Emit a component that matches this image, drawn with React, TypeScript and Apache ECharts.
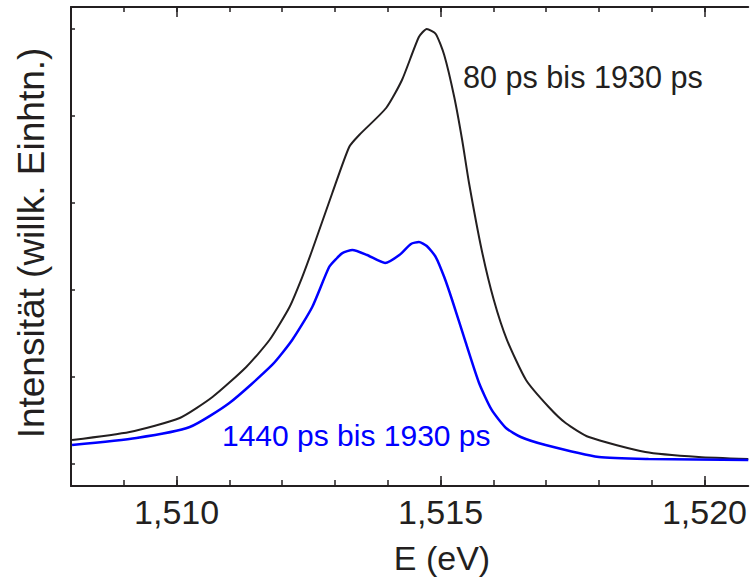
import React, { useEffect, useRef } from "react";
import * as echarts from "echarts";

const energyBlack = [1.50802, 1.50911, 1.51006, 1.51068, 1.51132, 1.51176, 1.51214, 1.51238, 1.51257, 1.51295, 1.51327, 1.51346, 1.51397, 1.51427, 1.51459, 1.51474, 1.51491, 1.51507, 1.51526, 1.51541, 1.51554, 1.51578, 1.51601, 1.51626, 1.51662, 1.51705, 1.51737, 1.51781, 1.51888, 1.51989, 1.52083];
const intensityBlack = [0.276, 0.368, 0.529, 0.77, 1.115, 1.425, 1.805, 2.149, 2.46, 3.115, 3.644, 3.782, 4.092, 4.414, 4.908, 5.0, 4.943, 4.701, 4.218, 3.724, 3.23, 2.46, 1.885, 1.425, 0.966, 0.655, 0.471, 0.31, 0.138, 0.08, 0.057];

const energyBlue = [1.50802, 1.50924, 1.51025, 1.511, 1.51181, 1.51219, 1.51257, 1.51289, 1.51304, 1.51314, 1.51333, 1.51361, 1.51395, 1.51422, 1.51444, 1.51459, 1.51474, 1.51491, 1.51507, 1.51522, 1.51548, 1.51573, 1.51597, 1.51624, 1.51652, 1.51699, 1.518, 1.51894, 1.52083];
const intensityBlue = [0.218, 0.299, 0.425, 0.701, 1.138, 1.425, 1.805, 2.264, 2.368, 2.425, 2.46, 2.402, 2.31, 2.402, 2.529, 2.552, 2.506, 2.379, 2.149, 1.885, 1.391, 0.931, 0.621, 0.414, 0.31, 0.218, 0.08, 0.057, 0.046];

const minorTicks = [1.508, 1.509, 1.51, 1.511, 1.512, 1.513, 1.514, 1.515, 1.516, 1.517, 1.518, 1.519, 1.52];
const majorTicks = [1.51, 1.515, 1.52];
const yTicks = [0, 1, 2, 3, 4, 5];

const labelBlack = "80 ps bis 1930 ps";
const labelBlue = "1440 ps bis 1930 ps";
const xTitle = "E (eV)";
const yTitle = "Intensität (willk. Einhtn.)";

const X_MIN = 1.508;
const X_MAX = 1.52083;
const Y_MIN = -0.253;
const Y_MAX = 5.253;

const INK = "#231f20";
const FONT = "'Liberation Sans', Arial, Helvetica, sans-serif";

export default function App() {
  const ref = useRef<HTMLDivElement>(null);
  useEffect(() => {
    document.body.style.margin = "0";
    if (!ref.current) return;
    const chart = echarts.init(ref.current, null, { renderer: "svg" });
    const baseX = (pos: string, ticks: number[], len: number, line: boolean, labels: boolean) => ({
      type: "value",
      position: pos,
      min: X_MIN,
      max: X_MAX,
      axisLine: { show: line, onZero: false, lineStyle: { color: INK, width: 2 } },
      axisTick: { show: true, inside: true, length: len, customValues: ticks, lineStyle: { color: INK, width: 1.5 } },
      axisLabel: labels
        ? {
            show: true,
            customValues: majorTicks,
            formatter: (v: number) => v.toFixed(3).replace(".", ","),
            fontSize: 34,
            fontFamily: FONT,
            color: INK,
            margin: 9,
          }
        : { show: false },
      splitLine: { show: false },
    });
    chart.setOption({
      animation: false,
      backgroundColor: "#ffffff",
      grid: { left: 71, top: 7, right: 0, bottom: 93, containLabel: false },
      xAxis: [
        baseX("bottom", minorTicks, 6, true, false),
        baseX("bottom", majorTicks, 10, false, true),
        baseX("top", minorTicks, 5, true, false),
        baseX("top", majorTicks, 10, false, false),
      ],
      yAxis: [
        {
          type: "value",
          position: "left",
          min: Y_MIN,
          max: Y_MAX,
          axisLine: { show: true, onZero: false, lineStyle: { color: INK, width: 2 } },
          axisTick: { show: true, inside: true, length: 4, customValues: yTicks, lineStyle: { color: INK, width: 1.5 } },
          axisLabel: { show: false },
          splitLine: { show: false },
        },
      ],
      series: [
        {
          type: "line",
          xAxisIndex: 0,
          yAxisIndex: 0,
          data: energyBlack.map((e, i) => [e, intensityBlack[i]]),
          showSymbol: false,
          smooth: 0.2,
          lineStyle: { color: INK, width: 2 },
          z: 3,
        },
        {
          type: "line",
          xAxisIndex: 0,
          yAxisIndex: 0,
          data: energyBlue.map((e, i) => [e, intensityBlue[i]]),
          showSymbol: false,
          smooth: 0.2,
          lineStyle: { color: "#0000ff", width: 2.5 },
          z: 3,
        },
      ],
      graphic: [
        {
          type: "text",
          left: 463,
          top: 61,
          style: { text: labelBlack, fontSize: 30.6, fontFamily: FONT, fill: INK },
        },
        {
          type: "text",
          left: 222,
          top: 420,
          style: { text: labelBlue, fontSize: 30, fontFamily: FONT, fill: "#0000ff" },
        },
        {
          type: "text",
          x: 442,
          y: 558,
          style: { text: xTitle, fontSize: 34, fontFamily: FONT, fill: INK, align: "center", verticalAlign: "middle" },
        },
        {
          type: "text",
          x: 31,
          y: 243,
          rotation: Math.PI / 2,
          style: { text: yTitle, fontSize: 37, fontFamily: FONT, fill: INK, align: "center", verticalAlign: "middle" },
        },
      ],
    });
    return () => chart.dispose();
  }, []);
  return <div ref={ref} style={{ width: 750, height: 579 }} />;
}
